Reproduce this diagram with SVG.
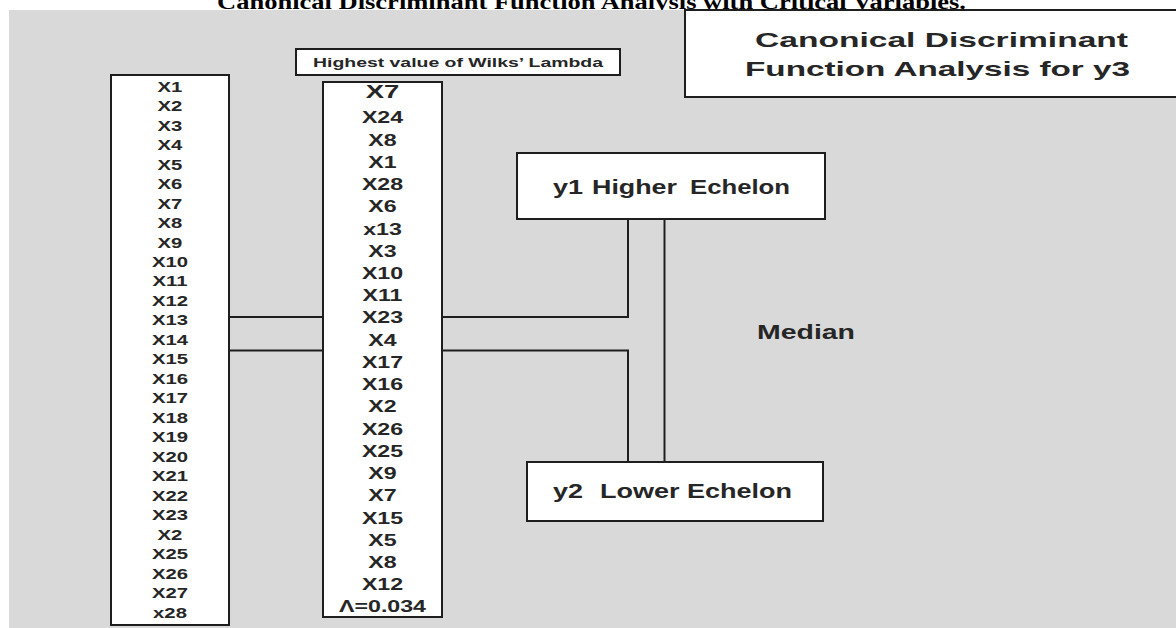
<svg xmlns="http://www.w3.org/2000/svg" width="1176" height="628" viewBox="0 0 1176 628">
<style>
.box{fill:#ffffff;stroke:#1e1e1e;stroke-width:2}
.ln{fill:none;stroke:#1e1e1e;stroke-width:2}
.t{font-family:"Liberation Sans","Open Sans",sans-serif;font-weight:bold;fill:#262626}
.col{font-size:14px;text-anchor:middle}
.col2{font-size:16px;text-anchor:middle}
</style>
<rect x="0" y="0" width="1176" height="628" fill="#ffffff"/>
<text x="217" y="9" font-family="'Liberation Serif',serif" font-weight="bold" font-size="20" fill="#000" textLength="749" lengthAdjust="spacingAndGlyphs">Canonical Discriminant Function Analysis with Critical Variables.</text>
<rect x="9" y="10" width="1167" height="618" fill="#d9d9d9"/>

<g id="connectors">
<line class="ln" x1="229" y1="317" x2="323" y2="317"/>
<line class="ln" x1="229" y1="350.5" x2="323" y2="350.5"/>
<polyline class="ln" points="442,317 628,317 628,219"/>
<polyline class="ln" points="442,350.5 628,350.5 628,462"/>
<line class="ln" x1="664.5" y1="219" x2="664.5" y2="462"/>
</g>

<g id="title-box">
<rect class="box" x="685" y="10" width="500" height="87"/>
<text class="t" x="755" y="46.7" font-size="21" textLength="373" lengthAdjust="spacingAndGlyphs">Canonical Discriminant</text>
<text class="t" x="745" y="76" font-size="21" textLength="385" lengthAdjust="spacingAndGlyphs">Function Analysis for y3</text>
</g>

<g id="wilks-label">
<rect class="box" x="296" y="49" width="324" height="26"/>
<text class="t" x="313" y="66.7" font-size="13" textLength="290" lengthAdjust="spacingAndGlyphs">Highest value of Wilks’ Lambda</text>
</g>

<g id="all-variables">
<rect class="box" x="111" y="75" width="118" height="550"/>
<g transform="translate(170 0) scale(1.45 1)">
<text class="t col" y="91.7"><tspan x="0">X1</tspan><tspan x="0" dy="19.48">X2</tspan><tspan x="0" dy="19.48">X3</tspan><tspan x="0" dy="19.48">X4</tspan><tspan x="0" dy="19.48">X5</tspan><tspan x="0" dy="19.48">X6</tspan><tspan x="0" dy="19.48">X7</tspan><tspan x="0" dy="19.48">X8</tspan><tspan x="0" dy="19.48">X9</tspan><tspan x="0" dy="19.48">X10</tspan><tspan x="0" dy="19.48">X11</tspan><tspan x="0" dy="19.48">X12</tspan><tspan x="0" dy="19.48">X13</tspan><tspan x="0" dy="19.48">X14</tspan><tspan x="0" dy="19.48">X15</tspan><tspan x="0" dy="19.48">X16</tspan><tspan x="0" dy="19.48">X17</tspan><tspan x="0" dy="19.48">X18</tspan><tspan x="0" dy="19.48">X19</tspan><tspan x="0" dy="19.48">X20</tspan><tspan x="0" dy="19.48">X21</tspan><tspan x="0" dy="19.48">X22</tspan><tspan x="0" dy="19.48">X23</tspan><tspan x="0" dy="19.48">X2</tspan><tspan x="0" dy="19.48">X25</tspan><tspan x="0" dy="19.48">X26</tspan><tspan x="0" dy="19.48">X27</tspan><tspan x="0" dy="19.48">x28</tspan></text>
</g>
</g>

<g id="critical-variables">
<rect class="box" x="323" y="82" width="119" height="535"/>
<g transform="translate(382.5 0) scale(1.45 1)">
<text class="t" y="98.5" font-size="19" text-anchor="middle" x="0">X7</text>
<text class="t col2" y="123.4"><tspan x="0">X24</tspan><tspan x="0" dy="22.23">X8</tspan><tspan x="0" dy="22.23">X1</tspan><tspan x="0" dy="22.23">X28</tspan><tspan x="0" dy="22.23">X6</tspan><tspan x="0" dy="22.23">x13</tspan><tspan x="0" dy="22.23">X3</tspan><tspan x="0" dy="22.23">X10</tspan><tspan x="0" dy="22.23">X11</tspan><tspan x="0" dy="22.23">X23</tspan><tspan x="0" dy="22.23">X4</tspan><tspan x="0" dy="22.23">X17</tspan><tspan x="0" dy="22.23">X16</tspan><tspan x="0" dy="22.23">X2</tspan><tspan x="0" dy="22.23">X26</tspan><tspan x="0" dy="22.23">X25</tspan><tspan x="0" dy="22.23">X9</tspan><tspan x="0" dy="22.23">X7</tspan><tspan x="0" dy="22.23">X15</tspan><tspan x="0" dy="22.23">X5</tspan><tspan x="0" dy="22.23">X8</tspan><tspan x="0" dy="22.23">X12</tspan><tspan x="0" dy="22.23">Λ=0.034</tspan></text>
</g>
</g>

<g id="y1-higher-echelon">
<rect class="box" x="517" y="153" width="308" height="66"/>
<text class="t" x="553" y="194" font-size="19.5" textLength="30" lengthAdjust="spacingAndGlyphs">y1</text>
<text class="t" x="592" y="194" font-size="19.5" textLength="85" lengthAdjust="spacingAndGlyphs">Higher</text>
<text class="t" x="690" y="194" font-size="19.5" textLength="100" lengthAdjust="spacingAndGlyphs">Echelon</text>
</g>

<g id="y2-lower-echelon">
<rect class="box" x="527" y="462" width="296" height="59"/>
<text class="t" x="553" y="498" font-size="20" textLength="30" lengthAdjust="spacingAndGlyphs">y2</text>
<text class="t" x="600" y="498" font-size="20" textLength="192" lengthAdjust="spacingAndGlyphs">Lower Echelon</text>
</g>

<g id="median-label">
<text class="t" x="757" y="339" font-size="20" textLength="98" lengthAdjust="spacingAndGlyphs">Median</text>
</g>
</svg>
